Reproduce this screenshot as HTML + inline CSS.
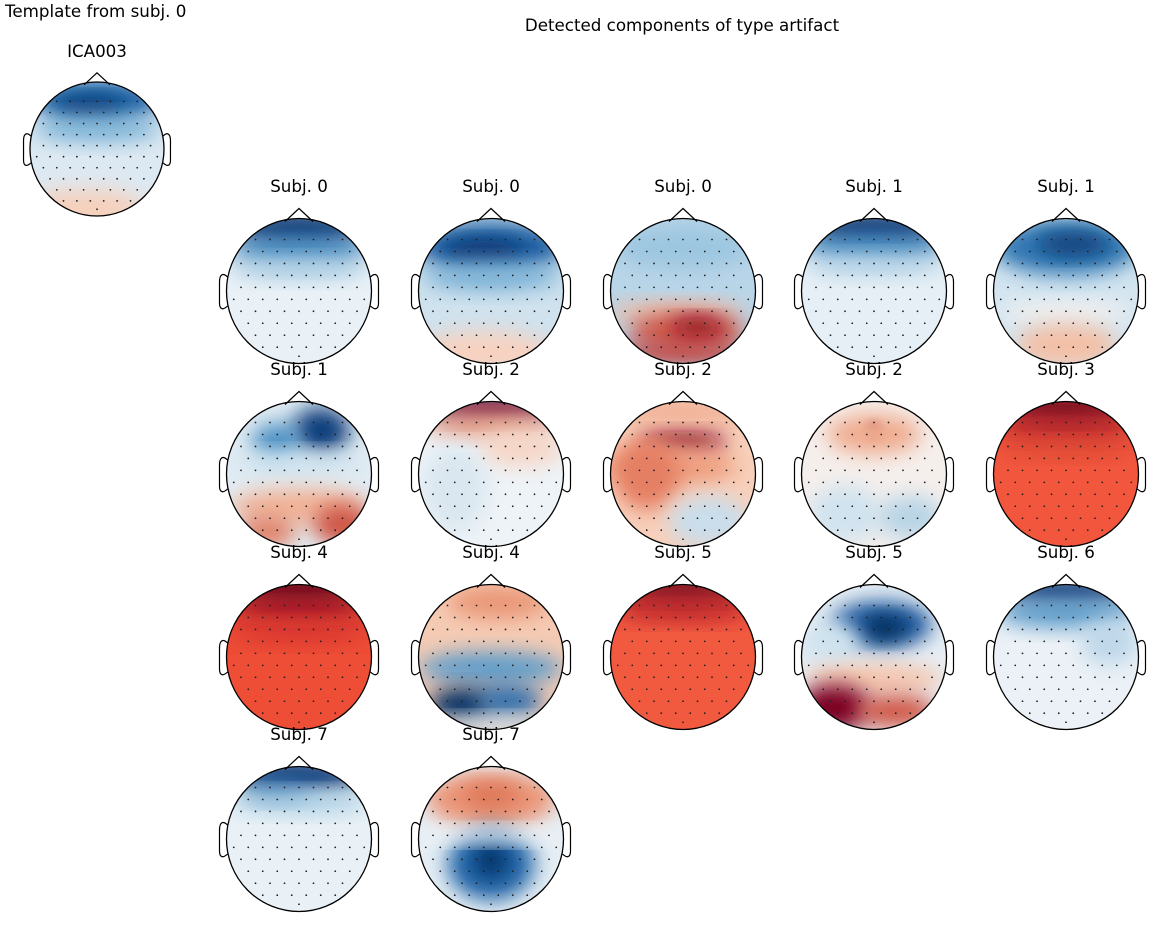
<!DOCTYPE html>
<html><head><meta charset="utf-8"><style>
body{margin:0;background:#fff;width:1170px;height:942px;overflow:hidden}
svg text{font-family:"DejaVu Sans","Liberation Sans",sans-serif;font-size:16.7px;fill:#000}
</style></head><body>
<svg id="fig" width="1170" height="942" viewBox="0 0 1170 942" xmlns="http://www.w3.org/2000/svg">
<defs>
<filter id="blur" x="-50%" y="-50%" width="200%" height="200%"><feGaussianBlur stdDeviation="10"/></filter>
<filter id="blurS" x="-50%" y="-50%" width="200%" height="200%"><feGaussianBlur stdDeviation="4"/></filter>
</defs>
<text x="5" y="17">Template from subj. 0</text>
<text x="682" y="31" text-anchor="middle">Detected components of type artifact</text>
<g id="maps"></g>
</svg>
<script>
// map labels
const labels = ["ICA003","Subj. 0","Subj. 0","Subj. 0","Subj. 1","Subj. 1","Subj. 1","Subj. 2","Subj. 2","Subj. 2","Subj. 3","Subj. 4","Subj. 4","Subj. 5","Subj. 5","Subj. 6","Subj. 7","Subj. 7"];
// base colour per map
const bases = ["#dde9f2","#eaf1f6","#cfe2ee","#b9d5e8","#e6eff5","#d3e5f0","#e2ecf3","#eef3f7","#f8d0bb","#f5efec","#f2573e","#ee4d36","#f5cbb4","#f25a40","#e8eef4","#ebf1f6","#e9f1f6","#e6eef4"];
// blobs per map: [x, y, rx, ry, colour, sharp]
const blobs = [
 [[0,-0.72,0.95,0.32,"#1f63a6",0],[-0.1,-0.62,0.5,0.15,"#083a75",0],[0,-0.3,0.95,0.2,"#7fb5d8",0],[-0.2,0.9,0.95,0.3,"#f6d0bc",0]],
 [[0,-0.85,0.9,0.25,"#0a3a75",0],[0,-0.55,0.95,0.2,"#4389c0",0],[0,-0.3,0.95,0.15,"#b2d2e6",0]],
 [[0,-0.6,1.0,0.35,"#1d5fa3",0],[-0.1,-0.55,0.55,0.15,"#07366f",0],[0,-0.2,0.95,0.2,"#80b5d8",0],[-0.1,0.85,0.95,0.3,"#f8d2c0",0]],
 [[-0.1,0.3,0.95,0.15,"#f3bea5",0],[0.05,0.55,0.8,0.25,"#d05545",0],[0.2,0.5,0.35,0.13,"#8e0c24",0],[0,0.85,0.9,0.15,"#c03a38",0],[0,-0.6,0.95,0.3,"#9cc6e0",0]],
 [[0,-0.85,0.9,0.25,"#073670",0],[0,-0.6,0.95,0.2,"#4389c0",0],[0,-0.35,0.95,0.15,"#bcd8ea",0]],
 [[0,-0.6,1.0,0.38,"#3078b4",0],[0.1,-0.65,0.5,0.16,"#0a3c78",0],[0,0.3,0.9,0.15,"#f5f1ef",0],[0,0.75,0.7,0.3,"#f4c0a6",0]],
 [[0.3,-0.6,0.4,0.32,"#0b3e7b",0],[-0.3,-0.45,0.35,0.25,"#4b90c3",0],[0,-0.15,0.95,0.15,"#d0e4f0",0],[0,0.45,0.95,0.25,"#f1b296",0],[-0.45,0.8,0.4,0.22,"#e08066",0],[0.6,0.7,0.4,0.28,"#cf5545",0]],
 [[0,-0.9,0.9,0.16,"#6e0622",0],[0,-0.65,0.9,0.15,"#e7987c",0],[0.4,-0.35,0.6,0.25,"#f6d6c6",0],[-0.5,0.2,0.45,0.6,"#dae7f0",0]],
 [[0,-0.45,0.6,0.14,"#8e0a22",0],[-0.2,-0.1,0.95,0.25,"#ee9c7d",0],[-0.5,0.0,0.45,0.5,"#e57f63",0],[0.35,0.65,0.55,0.35,"#c9deec",0],[0,-0.85,0.9,0.12,"#eda488",0]],
 [[0,-0.6,0.12,0.12,"#7f0a20",1],[0,-0.55,0.65,0.28,"#f0ac8f",0],[-0.4,0.55,0.5,0.4,"#d0e3ef",0],[0.5,0.6,0.45,0.3,"#b8d4e6",0]],
 [[0,-0.9,0.9,0.16,"#5e001c",0],[0,-0.62,0.95,0.15,"#b2202a",0],[0,-0.35,0.95,0.12,"#dc4632",0]],
 [[0,-0.92,0.9,0.16,"#52001a",0],[0,-0.65,0.95,0.15,"#a01628",0],[0,-0.35,0.95,0.15,"#d6362e",0]],
 [[0.1,-0.75,0.7,0.22,"#ea9576",0],[0,0.15,1.0,0.22,"#5d9cca",0],[-0.4,0.65,0.45,0.22,"#062f63",0],[0.25,0.6,0.45,0.22,"#2d70ae",0],[0,0.95,0.8,0.12,"#cfe2ee",0]],
 [[0,-0.92,0.9,0.14,"#5e001c",0],[0,-0.65,0.95,0.15,"#b8242c",0]],
 [[0.1,-0.45,0.7,0.32,"#1a5aa0",0],[0.15,-0.4,0.32,0.16,"#042a57",0],[-0.6,-0.2,0.4,0.3,"#cfe3ef",0],[0,0.3,0.95,0.2,"#f5c2a9",0],[-0.55,0.7,0.5,0.32,"#7d0620",0],[0.3,0.75,0.55,0.22,"#d05545",0]],
 [[0,-0.9,0.9,0.2,"#083874",0],[0,-0.6,0.95,0.2,"#5d9cca",0],[0.6,-0.2,0.4,0.3,"#bdd7e9",0]],
 [[0,-0.88,0.9,0.22,"#0a3c7a",0],[-0.3,-0.65,0.45,0.13,"#2d70ae",0],[0,-0.5,0.95,0.15,"#acd0e5",0]],
 [[0,-0.55,0.9,0.38,"#eb9577",0],[0,-0.6,0.4,0.16,"#dc7355",0],[0,0.35,0.6,0.5,"#2166a8",0],[0,0.3,0.22,0.22,"#052f63",0],[0,-0.05,0.95,0.1,"#f2f4f6",0]]
];
const svgNS="http://www.w3.org/2000/svg";
const root=document.getElementById('maps');
const colX=[299,491,683,874,1066], rowY=[291,474,657,839];
const positions=[[97,149,67]];
for(let i=1;i<labels.length;i++){const k=i-1;positions.push([colX[k%5],rowY[Math.floor(k/5)],72.5]);}
// sensor dots (unit coords)
const dots=[];
for(let yi=-4;yi<=5;yi++){const y=yi*0.165-0.05;const w=0.92*Math.sqrt(Math.max(0,1-y*y));const n=Math.floor(w/0.2)+1;for(let j=-n;j<=n;j++){const x=j*0.2+(yi%2?0.1:0);if(Math.abs(x)<w)dots.push([x,y]);}}
dots.push([0,0.9]);
function el(t,a,p){const e=document.createElementNS(svgNS,t);for(const k in a)e.setAttribute(k,a[k]);p.appendChild(e);return e;}
labels.forEach((lab,i)=>{
  const [cx,cy,r]=positions[i];
  const g=el('g',{},root);
  
  
  const cp=el('clipPath',{id:'c'+i},g);el('circle',{cx,cy,r},cp);
  const inner=el('g',{'clip-path':'url(#c'+i+')'},g);
  el('rect',{x:cx-r,y:cy-r,width:2*r,height:2*r,fill:bases[i]},inner);
  blobs[i].forEach(b=>{const e=el('ellipse',{cx:cx+b[0]*r,cy:cy+b[1]*r,rx:b[2]*r,ry:b[3]*r,fill:b[4],filter:b[5]?'url(#blurS)':'url(#blur)'},inner);
    
    });
  dots.forEach(d=>{el('circle',{cx:cx+d[0]*r,cy:cy+d[1]*r,r:0.9,fill:'#222'},inner);});
  const s=r/72.5;
  el('path',{d:`M${cx-14*s} ${cy-r+3*s} L${cx} ${cy-r-10*s} L${cx+14*s} ${cy-r+3*s}`,fill:'none',stroke:'#000','stroke-width':1.2},g);
  el('path',{d:`M${cx-r+1} ${cy-14*s} C${cx-r-4*s} ${cy-19*s} ${cx-r-7*s} ${cy-16*s} ${cx-r-7*s} ${cy-9*s} L${cx-r-7*s} ${cy+12*s} C${cx-r-7*s} ${cy+19*s} ${cx-r-3*s} ${cy+19*s} ${cx-r+1} ${cy+15*s}`,fill:'none',stroke:'#000','stroke-width':1.2},g);
  el('path',{d:`M${cx+r-1} ${cy-14*s} C${cx+r+4*s} ${cy-19*s} ${cx+r+7*s} ${cy-16*s} ${cx+r+7*s} ${cy-9*s} L${cx+r+7*s} ${cy+12*s} C${cx+r+7*s} ${cy+19*s} ${cx+r+3*s} ${cy+19*s} ${cx+r-1} ${cy+15*s}`,fill:'none',stroke:'#000','stroke-width':1.2},g);
  el('circle',{cx,cy,r,fill:'none',stroke:'#000','stroke-width':1.3},g);
  const t=el('text',{x:cx,y:i==0?57:cy-99,'text-anchor':'middle'},g);
  
  
  t.textContent=lab;
});
</script>
</body></html>
